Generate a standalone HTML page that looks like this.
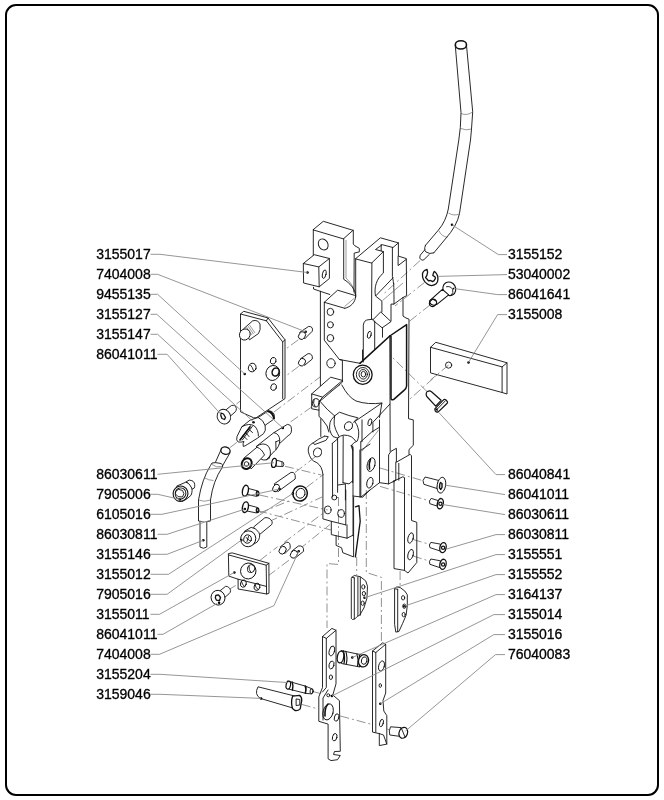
<!DOCTYPE html>
<html><head><meta charset="utf-8"><style>
html,body{margin:0;padding:0;background:#fff;width:664px;height:800px;overflow:hidden}
svg{display:block}
text{font-family:"Liberation Sans",sans-serif;font-size:14px;fill:#000;stroke:#000;stroke-width:0.3}
svg{will-change:transform}
.ld{fill:none;stroke:#8a8a8a;stroke-width:0.9}
.p{fill:#fff;stroke:#111;stroke-width:0.9;stroke-linejoin:round}
.n{fill:none;stroke:#111;stroke-width:0.9;stroke-linejoin:round;stroke-linecap:round}
.t{fill:none;stroke:#555;stroke-width:0.6}
.d{fill:none;stroke:#777;stroke-width:0.8;stroke-dasharray:9 3 2 3}
.k{fill:#000}
</style></head><body>
<svg width="664" height="800" viewBox="0 0 664 800">
<rect x="6" y="5" width="652" height="790" rx="10" ry="10" fill="none" stroke="#000" stroke-width="2"/>
<path class="d" d="M420,260.6 L382.5,295 M424.4,282.5 L395,306 M430,305 L409.4,321.3 M446,367 L409,399.8 M427.1,391.7 L390,355"/>
<path class="d" d="M380,468 L424,481 M380,486.4 L430,501 M413,539.5 L430,544.5 M413,556 L430,561.3"/>
<path class="d" d="M298.3,339.8 L285.3,349.4 M298.8,366.3 L285.3,376.4 M236.5,404 L276,372 M274,412 L320,377 M290.7,421.8 L315.9,404 M229.7,447.8 L240,440"/>
<path class="d" d="M285,466.3 L321.3,475 M295,472.5 L317.7,455 M306.3,487.5 L324,474 M259.4,495 L327.7,510 M258.1,510.8 L331,530 M268.9,521.7 L322,497 M284,542.5 L326,511 M299,549.5 L330,524.5 M260,560.3 L277.6,546.7 M268.1,575.9 L289.8,559.6 M260,512.9 L291.2,500 M228,590 L240,583"/>
<path class="d" d="M338.5,497 L338.5,564.5 L327,563.5 L327,628 M356.7,557 L356.7,575 M366.3,490 L366.3,572.5 L381.4,577.3 L381.4,643 M400.1,571 L400.1,587"/>
<path class="d" d="M340.3,716 L372.5,724.6 M376,725.5 L390,730 M301.7,704.4 L318.3,709 M313,691.6 L322,693.9"/>
<!-- left tower -->
<path class="n" d="M313.3,229.6 L323.3,221.3 L353,230.3 L343.7,238.6 Z"/>
<path class="n" d="M313.3,229.6 L313.3,258"/>
<path class="n" d="M343.7,238.6 L343.7,279.3 C350,283 355.7,290 355.7,296 C355.5,302 351,307 344.8,308.3"/>
<path class="t" d="M346,240 L346,278 C352,284 354,288 354.5,294"/>
<path class="n" d="M353.3,230.2 L353.3,244.1 L355,245.9 L359.3,248.3 L359.3,251.9 L354.2,253.1 L354,292"/>
<ellipse class="n" cx="323.2" cy="244.4" rx="4.6" ry="5.8" transform="rotate(-30 323.2 244.4)"/>
<!-- cube 3155017 -->
<path class="p" d="M303.3,263.5 L314.3,254.7 L329.4,258.5 L329.4,278.5 L319.2,286.8 L303.6,283 Z"/>
<path class="n" d="M303.3,263.5 L318.8,266.9 L329.4,258.5 M318.8,266.9 L319.2,286.8"/>
<ellipse class="n" cx="324.2" cy="274.2" rx="1.8" ry="4.3" transform="rotate(12 324.2 274.2)"/>
<circle class="k" cx="307.5" cy="272.5" r="1.25"/>
<!-- below cube -->
<path class="n" d="M313.5,287.2 L313.5,289 L329.8,294.5"/>
<path class="n" d="M320.4,291.3 L320.4,386.3 M320.8,418.8 L320.8,436.5"/>
<path class="n" d="M324.3,302.3 L337.6,290.2 L354.5,295.3 M324.3,302.3 L344.8,308.3"/>
<path class="t" d="M344.5,306.5 L354.5,298"/>
<path class="n" d="M324.3,302.3 L324.3,340.2 L339.4,359.5 L342.4,360.2 L342.4,380.1 M339.4,359.5 L359.9,363.3"/>
<ellipse class="n" cx="330.4" cy="311.9" rx="3.3" ry="3.6"/>
<ellipse class="n" cx="330.4" cy="324.8" rx="3" ry="3.1"/>
<ellipse class="n" cx="330.4" cy="338.1" rx="3.3" ry="3.6"/>
<ellipse class="n" cx="331" cy="363.3" rx="4.2" ry="4.6"/>
<!-- center tower -->
<path class="n" d="M355.7,258.6 L380.4,237.8 L398.4,242.9 L393,247.5 L382.2,244.7 L375.5,249.5 L383.4,251.6 L371.9,262.8 Z"/>
<path class="n" d="M355.7,258.6 L355.7,297 M371.9,262.8 L371.5,318.8"/>
<path class="n" d="M383.4,251.6 L383.4,273 C376,279 374,288 375.5,296 L381.9,301.1 L381.9,311.9"/>
<path class="n" d="M392.4,247.5 L392.4,276.6 C394,283 394,290 394,304.1 L391,304.1 L391,321"/>
<path class="n" d="M398.4,242.9 L398.4,256.1 L406.3,258.6 L406.6,295.7 L403,297.5 L394,304.1 M403,297.5 L403,316.1 L406,318 L409,319.2 L408.5,418.7 L413.3,419.9 L413.3,445.3 L409,449.5 L409,454.3"/>
<path class="n" d="M375.9,295.7 L393,277.8 M398.1,256.3 L398.1,265.6 L406.2,259.4 M381.2,244.5 L381.2,250.8"/>
<path class="t" d="M382.5,300.5 L403,283"/>
<path class="n" d="M372.9,319.8 L380.7,311.9 L391,321.6 L382.5,327.6 Z M382.5,327.6 L382.5,337.2 M374.7,321 L374.7,349.3"/>
<path class="n" d="M363.3,362 L363.3,325.2 Q364,320 368,319.8 L372.9,319.2"/>
<ellipse class="n" cx="369.3" cy="334.8" rx="1.8" ry="3.6" transform="rotate(15 369.3 334.8)"/>
<path class="n" style="stroke-width:1.6" d="M359.9,363.3 L389.8,336"/>
<path class="n" style="stroke-width:1.5" d="M389.8,336 L406.6,324.6 L406.6,386 Q406.4,388.6 404,390.4 L393.5,399.6 Q391,400.5 391,398 L391,336.6"/>
<path class="n" d="M389.8,336 L390.2,451.3"/>
<!-- nut in body -->
<path class="n" d="M362.5,350 L362.5,359.6"/>
<ellipse class="n" style="stroke-width:1.3" cx="362.7" cy="374.7" rx="9.4" ry="9.6"/>
<ellipse class="n" cx="362.9" cy="374.5" rx="6.6" ry="7"/>
<ellipse class="n" cx="363.2" cy="374.3" rx="4.2" ry="4.8"/>
<ellipse class="n" cx="363.4" cy="374.2" rx="2.3" ry="2.8"/>
<path class="n" d="M341.8,385 Q348,397 356,401 Q368,405 381.9,403"/>
<!-- small block -->
<path class="p" d="M311.7,393.9 L330.7,377.2 L342.5,380.4 L342.5,382 L322.6,399 L319,401.6 L319,410.2 L311.7,408.8 Z"/>
<path class="n" d="M311.7,393.9 L322.6,397.1 L342.5,380.4 M322.6,397.1 L319,401.6 M319,410.2 L319,416.5 L321.7,418.8 L327.1,426 L328.9,432"/>
<path class="t" d="M323.5,396 L340,385"/>
<ellipse class="n" cx="315.8" cy="402.8" rx="3.4" ry="4.2" transform="rotate(15 315.8 402.8)"/>
<path class="n" d="M314,399.5 Q312.5,403.5 315,406.5"/>
<path class="n" d="M319.9,401.2 Q327,410 334.6,415.9"/>
<path class="n" d="M334.6,415.9 L339.5,412.2 L348.9,415.5 L357.9,417.8 L354.5,421.2 Q357.5,425 357.9,427.6 Q359,431 358.7,435.1 Q358.3,439 357.2,441.1 L354.2,442.6 L351.1,445.7 L352.7,450.2 M334.6,415.9 Q330.5,420 330.1,422.3 Q329.3,426 329.7,429.8 Q331,434.5 333.1,436.6 L337.6,438.1 M334.6,416.3 Q334,420 334.2,424.6 Q335.5,430 337.6,433.6 L339.1,436.6"/>
<ellipse class="n" cx="348.5" cy="426.1" rx="3.9" ry="4.5" transform="rotate(35 348.5 426.1)"/>
<path class="n" d="M353.6,422.3 L381.9,403 L379.5,417.5 M389.8,404.2 L372.9,422.3 L372.9,432 M362,419.9 L362,441.7"/>
<ellipse class="n" cx="369.9" cy="422.3" rx="1.8" ry="3.6" transform="rotate(15 369.9 422.3)"/>
<!-- lower body -->
<path class="n" d="M324.7,436.1 Q318,439 313.3,442.8 Q310,444.5 309,446.4 Q307.8,449 308.4,451.8 Q309.2,456 311.4,459 Q313.5,461.5 316.9,462.7 Q319.5,464.5 321.1,467.5 Q322.7,471 322.9,474.7 L322.9,518.9 L331.3,521.3 L345.8,524.9 M313.3,442.8 L314.5,444.6 L325.9,440.4 L328.3,436.7 L324.7,436.1"/>

<ellipse class="n" cx="317.5" cy="452.4" rx="4" ry="4.5" transform="rotate(30 317.5 452.4)"/>


<path class="n" d="M332.3,443.4 L332.6,497.1 M337.6,438.1 L337.6,492.3 M343.2,435.9 L343,482.7 M352.7,445.9 L352.7,482.7"/>
<path class="n" d="M332.3,443.4 L337.6,438.9 M337.6,438.1 Q340.5,435.5 343.6,435.1 Q347.5,435 351.1,436.6 Q354,438.5 355.7,441.1"/>
<path class="n" d="M343,482.7 L349,483.9 L352.7,480.8 M338.2,485 L345.4,483.9 L345.4,500"/>
<path class="n" d="M361.1,450.1 L370,444.1"/>
<path class="n" d="M351.2,445.3 L353,447.7 L353,535.8"/>
<path class="n" d="M360.8,441.7 L360.8,497.1 L379.5,482.7 L379.5,420 M360.8,441.7 L371.7,432 L379.5,427.2"/>
<path class="t" d="M362,451.3 L378.9,429.6"/>
<ellipse class="n" cx="371.1" cy="464.6" rx="3.8" ry="7" transform="rotate(15 371.1 464.6)"/>
<path class="n" style="stroke-width:1.6" d="M369.5,469 Q368.5,464 370.5,459"/>
<ellipse class="n" cx="369.9" cy="482.7" rx="3" ry="5.4" transform="rotate(15 369.9 482.7)"/>
<path class="n" d="M388.6,483.9 L388.6,454.9 L391,451.3 L396.4,448.3 L396.4,462.2 L410.2,454.3 L411.5,455.8 L411.5,520.5 L416.8,522.3 L416.8,562.5 L408,573 L404.5,570.4 L394,568.6 L394,480.3"/>
<path class="n" d="M395.8,462.2 L395.8,480.2 L393.1,482 M395.8,480.2 L402.8,476.8 L404.5,477.6 L404.5,570.4 M398.8,463.4 L398.8,480.2"/>
<path class="n" d="M379.5,482.7 L388.6,483.9 L395.8,480.2"/>
<ellipse class="n" cx="410.6" cy="538" rx="2.6" ry="5.3" transform="rotate(15 410.6 538)"/>
<ellipse class="n" cx="410.6" cy="554.6" rx="2.6" ry="5.3" transform="rotate(15 410.6 554.6)"/>
<ellipse class="n" cx="327.7" cy="509.9" rx="3.4" ry="3.9"/>
<ellipse class="n" cx="341" cy="513.5" rx="3.4" ry="3.9"/>
<ellipse class="n" cx="334.3" cy="497.5" rx="2.6" ry="2.4"/>
<path class="n" d="M345.8,490 L345.8,524.9 M331.3,521.3 L331.3,534.6 L347,538.2 L353,535.2 M347,524.9 L347,538.2"/>
<path class="n" d="M336.1,535.8 L336.1,545.4 L341.6,547.8 L342.8,552.7 L353.6,556.9 L353.6,497.2"/>
<path class="n" style="stroke-width:1.3" d="M355.4,506.9 L359,505.7 L360.2,521.3 L356.6,547.8 L355.4,556.9"/>
<path class="n" d="M353,496 L362.7,497.2 L369.9,490 M359.9,450 L359.9,497"/>
<!-- rod 3155152 -->
<path class="n" d="M455.3,45.8 L461,112.6 L460.3,127.6 L458.8,140 L448.3,209 Q446,221 438.5,230 L425.5,245.3"/>
<path class="n" d="M466.6,46.5 L472.7,111.8 L471.5,129 L470.5,140 L459.5,213.5 Q457,226 445.3,239 L433.8,252.9"/>
<ellipse class="n" style="stroke-width:1.6" cx="460.9" cy="44.9" rx="5.6" ry="4.1"/>
<path class="t" d="M461,113.5 Q467,116 472.7,112 M460.3,128.3 Q466,131 471.5,129 M448.5,213 Q454,216.5 459.5,213.8 M439.1,231 Q441,236 447.4,237.4"/>
<path class="n" d="M425.5,245.3 Q423.5,250 426,252 Q429.5,254.5 433.8,252.9"/>
<path class="n" d="M424.8,249.8 L420.3,255.1 Q418.5,258.5 421.5,260 Q423,260.5 424,259.6 L429.3,254.4"/>
<circle class="k" cx="452" cy="224.8" r="1.25"/>
<!-- e-clip -->
<path class="n" style="stroke-width:1.3" d="M427,269.3 Q424.5,270 423.8,271.1 Q422.3,273 422.5,274.4 Q422.3,277.5 423.4,279.5 Q425,282.5 427,283.8 Q429.5,285.6 431.7,285.6 Q434.5,285.3 436.1,283.8 Q437.9,282 437.9,279.5 Q438,277.5 437.5,275.8 Q436.8,273.8 435.7,272.6 L434.3,271.5 Q433.2,273 432.8,275.5 L435,276.9 Q435.8,278 435.3,278.7 L433.9,280.9 L432.5,281.6 L431.4,280.9 L430.3,280.5 L428.5,280.9 L427.4,279.5 L425.6,277.6 L427,275.1 L427.6,272.2 Z"/>
<!-- screw 86041641 -->
<ellipse class="p" style="stroke-width:1.1" cx="449.3" cy="288.8" rx="6.3" ry="6.9" transform="rotate(-30 449.3 288.8)"/>
<path class="n" d="M446.5,286.7 Q450.5,285.8 452.6,289.2 Q453.8,292.5 451.5,295"/>
<path class="k" d="M452.5,288 L454.5,287.5 L454,290 Z"/>
<path class="p" style="stroke-width:1.1" d="M442.4,289.4 L448.7,294.9 L436.6,304.6 Q431.5,306.5 429.8,302.5 Q429,300.8 430.3,300.2 Z"/>
<ellipse class="n" style="stroke-width:1.1" cx="433" cy="302.9" rx="3.2" ry="3.8" transform="rotate(40 433 302.9)"/>
<path class="n" style="stroke-width:1.3" d="M430.8,300 Q433,298.5 435.5,300.5"/>
<!-- block 3155008 -->
<path class="p" d="M430.5,347.3 L435.8,342.3 L507,362.8 L507,394 L502.1,392.5 L430.5,372.9 Z"/>
<path class="n" d="M430.5,347.3 L502.1,366.9 L502.1,392.5 M502.1,366.9 L507,362.8"/>
<circle class="n" cx="448.6" cy="365.1" r="3.1"/>
<circle class="k" cx="468.5" cy="362.4" r="1.25"/>
<!-- screw 86040841 -->
<path class="p" style="stroke-width:1.2" d="M431.5,391.8 L441.1,400.3 L435.7,406.1 L426.8,396.5 Q425.2,393.2 427.5,391.4 Q429.8,390 431.5,391.8 Z"/>
<path class="p" style="stroke-width:1.2" d="M434.8,408.8 L443.8,399.6 Q445.5,399 447.2,401.3 Q448,402.5 447.2,403.2 L438.3,411.9 Q436.5,412.5 435.2,410.8 Z"/>
<path class="n" d="M436.2,410.2 L445.2,401"/>
<path class="k" d="M435,409 L437.5,408.2 L437.8,411.5 Z"/>
<path class="d" d="M448.6,365.1 L430.5,380"/>
<!-- right screws -->
<path class="p" d="M425.1,477 L438.5,480.4 L437,488.5 L423.9,484.3 Q421.5,480.5 425.1,477 Z"/>
<ellipse class="p" cx="441.4" cy="485.2" rx="4.2" ry="8" transform="rotate(10 441.4 485.2)"/>
<path class="n" style="stroke-width:1.4" d="M440.5,482.5 L442,483.5 L442,487.5 L440.8,489.5 L439.5,487.8 L439.8,484 Z"/>
<path class="p" d="M431.2,498.4 L438.6,500.7 L436.9,506 L429.8,503.7 Q428.5,501 431.2,498.4 Z"/>
<ellipse class="p" style="stroke-width:1.4" cx="440.3" cy="503.7" rx="2.9" ry="5.2" transform="rotate(12 440.3 503.7)"/>
<circle class="n" style="stroke-width:1.2" cx="440.4" cy="503.8" r="1.6"/>
<path class="p" d="M430.8,542.4 L440.4,544.1 L440.4,551.1 L429.9,547.6 Q428.5,545 430.8,542.4 Z"/>
<ellipse class="p" style="stroke-width:1.3" cx="443" cy="547.6" rx="3.1" ry="5.1" transform="rotate(12 443 547.6)"/>
<circle class="n" style="stroke-width:1.2" cx="443.1" cy="547.8" r="1.6"/>
<path class="p" d="M430.8,559 L440.4,560.8 L440.4,567.8 L429.9,564.3 Q428.5,561.6 430.8,559 Z"/>
<ellipse class="p" style="stroke-width:1.3" cx="443" cy="564.3" rx="3.1" ry="5.1" transform="rotate(12 443 564.3)"/>
<circle class="n" style="stroke-width:1.2" cx="443.1" cy="564.5" r="1.6"/>
<!-- plate 9455135 -->
<path class="p" d="M243.7,311.3 L268,317.9 L285,339.8 L285,398.6 L256.1,417.8 L253.7,417.8 L240.5,411.8 L240.5,314 Z"/>
<path class="n" d="M240.5,314 L266.4,320.8 L282.7,341.9 L282.7,398.6 M268,317.9 L266.4,320.8 M285,339.8 L282.7,341.9"/>
<path class="p" d="M243.7,328.7 L252.7,320.8 Q258,319.5 260,324 Q261,330 258.5,333.5 L249.5,339.8 Z"/>
<ellipse class="p" cx="244.8" cy="334.5" rx="5.2" ry="5.7" transform="rotate(35 244.8 334.5)"/>
<path class="t" d="M246.5,327 L252,335 M248,326 L253.5,334 M249.5,325 L255,333"/>
<ellipse class="n" cx="252.3" cy="367.6" rx="3.8" ry="4.3" transform="rotate(20 252.3 367.6)"/>
<path class="n" d="M250.5,365 Q252.5,367 253.5,370.5"/>
<ellipse class="n" cx="273.2" cy="360.8" rx="2.8" ry="3.4" transform="rotate(20 273.2 360.8)"/>
<ellipse class="n" cx="272.8" cy="373" rx="6.8" ry="7.6" transform="rotate(20 272.8 373)"/>
<ellipse class="n" style="stroke-width:1.5" cx="275.6" cy="372" rx="3.4" ry="4.1" transform="rotate(20 275.6 372)"/>
<ellipse class="n" cx="273.6" cy="387.1" rx="2.8" ry="3.4" transform="rotate(20 273.6 387.1)"/>
<circle class="k" cx="244.7" cy="373.9" r="1.25"/>
<!-- screw 86041011 upper left -->
<path class="p" d="M224.5,411 L231.4,405.5 Q235.5,404.5 236.4,408.5 Q236.3,410.5 235.5,411.6 L230.5,416 Z"/>
<ellipse class="p" cx="223.9" cy="416.6" rx="6.6" ry="7.5" transform="rotate(-25 223.9 416.6)"/>
<path class="n" style="stroke-width:1.3" d="M221,413 L223.5,414 L225.5,417.5 L224.5,419.5 L222,418.5 L220.8,415.5 Z"/>
<!-- cylinder 3155127 -->
<path class="p" d="M250.1,420.1 L258.4,417.4 L268.1,411 Q272.5,410.5 274.2,414.5 L274.2,418.9 L265.1,425.3 Q266.3,431 263.6,433.6 L257.6,438.1 L247.8,444.2 Q244.5,446.5 243.3,446.4 Q242.5,443.5 244,441.5 Q240.5,442.5 238.2,442 Q235.8,440.5 237,436.5 L241.8,426.8 Z"/>
<path class="n" style="stroke-width:2" d="M268.1,411.2 Q273,412.5 274,418.5"/>
<path class="n" d="M258.4,417.6 Q263.5,420 265.1,425.3 M241.8,426.8 Q249,422.5 254.5,426 Q258.5,430 258.4,436"/>
<path class="n" d="M252.3,426.4 L242.3,440 M250.5,425.7 L240.5,439 M246,433 L249,436.5 M243.5,436 L247,439.5 M249,429.5 L252.5,432.5"/>
<path class="n" style="stroke-width:1.6" d="M240,440 L250,427"/>
<circle class="k" cx="253.5" cy="422.2" r="1.25"/>
<!-- cylinder 3155147 -->
<path class="p" d="M273.8,432.7 L287.3,424.4 Q290.5,424.5 291.1,426.7 Q292,430 291.1,432.7 Q290,435 288.1,435.7 L278.3,444.8 Z"/>
<path class="p" d="M256.5,446.3 L273.8,432.7 Q279.5,433.5 279.8,440.5 Q279.5,447 274.5,451 L266.3,459.8 Q261,461 258.5,456 Z"/>
<path class="n" d="M256.5,446.3 Q263.5,441.5 268.5,446.3 Q272,451.5 269.3,458.3 L266.3,459.8"/>
<path class="p" d="M243.7,458.3 L257,447.2 Q262,449 264.5,455 L251.2,468.9 Z"/>
<path class="n" d="M275.8,441.8 L279.5,440.3 M275.8,441.8 L276,449.8"/>
<ellipse class="p" style="stroke-width:2" cx="246.7" cy="463.6" rx="4.8" ry="5.6" transform="rotate(30 246.7 463.6)"/>
<circle class="n" cx="246.5" cy="464" r="2.3"/>
<circle class="k" cx="282.8" cy="427.9" r="1.25"/>
<!-- small screw 86030611 left -->
<path class="p" d="M276,460 L283,462 Q284.8,464.3 283,466.6 L276,466.2 Z"/>
<ellipse class="p" style="stroke-width:1.3" cx="274" cy="462.9" rx="2.3" ry="4.6" transform="rotate(10 274 462.9)"/>
<path class="t" d="M281.5,461.7 L281.5,466.5 M282.5,462 L282.5,466.5"/>
<!-- bent rod 3155146 -->
<path class="p" d="M221,449.8 L214.3,464.8 L221.8,467 L230,452.8 Z"/>
<ellipse class="p" style="stroke-width:1.3" cx="225.5" cy="450.7" rx="4.7" ry="3.6" transform="rotate(15 225.5 450.7)"/>
<path class="p" d="M210.5,465.5 Q202,479 198.5,500 L198.5,521 Q204.5,523 210.5,521 L210.5,500 Q213,481 222.5,467 Q223.5,464.5 221,463.5 Q215,462 212,463 Z"/>
<path class="t" d="M204,477.5 Q208.5,480.5 213.5,480.5 M198.5,500 Q204,502.5 210.5,500 M212,464.5 Q216,468 222,466.5"/>
<path class="p" d="M200,521.8 L200,547 Q203.5,549.5 206.8,547 L206.8,521.5"/>
<circle class="k" cx="203.3" cy="540.3" r="1.25"/>
<!-- nut 7905006 -->
<path class="p" d="M186.3,481.7 L189.2,480.1 Q192.5,480.5 193.1,481.3 Q194.8,483 194.7,484.6 Q194.8,487 194.3,488 L191.6,489.5 Z"/>
<path class="n" d="M186.3,481.7 Q190.5,484.5 191.6,489.5"/>
<path class="p" d="M176.7,486.1 L185.8,482.2 Q189,483 190.2,485.6 Q192.3,488 192.1,490.4 Q192,493 191.1,495.2 L187.3,498.6 L182,501.5 Z"/>
<ellipse class="p" style="stroke-width:1.1" cx="180.5" cy="493.7" rx="7.4" ry="7.7" transform="rotate(25 180.5 493.7)"/>
<ellipse class="n" cx="180.5" cy="493.5" rx="5.3" ry="5.7" transform="rotate(25 180.5 493.5)"/>
<path class="n" d="M176.2,490.9 L178.6,489.4 L182.5,490.4 L183.9,493.7 L182.5,497 L178.1,496.6 L175.7,494.2 Z"/>
<circle class="k" cx="179.8" cy="499.6" r="1.25"/>
<!-- screws 6105016 / 86030811 left -->
<path class="p" d="M248.2,488.4 L257.5,490.9 Q259.3,493.5 256.7,496.4 L246.5,494.3 Z"/>
<ellipse class="p" style="stroke-width:1.4" cx="245.4" cy="490.7" rx="2.9" ry="5.5" transform="rotate(12 245.4 490.7)"/>
<ellipse class="n" style="stroke-width:1.2" cx="257.6" cy="493.6" rx="1.3" ry="2.4"/>
<path class="p" d="M248.2,505 L257.5,507.5 Q259.3,510.2 256.7,513 L246.5,510.9 Z"/>
<ellipse class="p" style="stroke-width:1.4" cx="245.4" cy="507.2" rx="2.9" ry="5.4" transform="rotate(12 245.4 507.2)"/>
<ellipse class="n" style="stroke-width:1.2" cx="257.6" cy="510.2" rx="1.3" ry="2.4"/>
<circle class="k" cx="244.8" cy="509" r="1.25"/>
<!-- pin 6105016 -->
<path class="p" d="M274.2,483.9 L291,472.4 Q296,471.5 295.2,479 L277.8,491.7 Z"/>
<ellipse class="p" cx="276" cy="488" rx="2.9" ry="4.1" transform="rotate(35 276 488)"/>
<circle class="k" cx="279.6" cy="489" r="1.25"/>
<!-- washer 3155012 -->
<ellipse class="n" style="stroke-width:1.5" cx="300.1" cy="493.5" rx="7.2" ry="7.6" transform="rotate(20 300.1 493.5)"/>
<ellipse class="n" cx="300.6" cy="493.3" rx="4.4" ry="5" transform="rotate(20 300.6 493.3)"/>
<circle class="k" cx="292.8" cy="493.5" r="1.25"/>
<!-- socket cap screw 7905016 -->
<path class="p" d="M253.5,527.1 L264.9,517.7 Q269.7,517 272.1,521.6 Q272.5,523.5 271.5,524.7 L259.5,534.6 Z"/>
<path class="p" d="M244.4,531.3 L251.1,527.4 Q255.9,527.6 258.9,532.5 Q260.2,535 259.5,537.3 Q259,540 257.1,542.1 L254.1,543.9 L250,546 Z"/>
<ellipse class="p" cx="248.2" cy="538.8" rx="7.5" ry="8" transform="rotate(20 248.2 538.8)"/>
<ellipse class="n" cx="247.6" cy="539.1" rx="3.8" ry="4.2" transform="rotate(20 247.6 539.1)"/>
<path class="n" d="M246,537.5 L249.5,540.5 M248.5,536.5 L247,541.5"/>
<circle class="k" cx="241.4" cy="540" r="1.25"/>
<!-- block 3155011 -->
<path class="p" d="M228.4,553.6 L232.2,552.9 L268.9,563.3 L269,593.2 L266.8,594 L238.1,589 L238.1,579.2 L228.8,576.1 L228.4,553.6 Z"/>
<path class="n" d="M228.8,555 L266.2,565.2 L266.6,594 M266.2,565.2 L268.9,563.3 M238.1,579.2 L266.4,586.4"/>
<ellipse class="n" cx="248.3" cy="571" rx="7.7" ry="8" transform="rotate(20 248.3 571)"/>
<ellipse class="n" cx="251" cy="568.7" rx="3.5" ry="4" transform="rotate(30 251 568.7)"/>
<path class="n" d="M249,566.5 Q248.5,570 251,572.5"/>
<ellipse class="n" cx="243.4" cy="583.6" rx="2.9" ry="3.7" transform="rotate(15 243.4 583.6)"/>
<ellipse class="n" cx="257" cy="586.8" rx="2.9" ry="3.7" transform="rotate(15 257 586.8)"/>
<path class="n" d="M241.5,581.5 Q242,584.5 244.5,586.5 M255,584.5 Q255.5,587.5 258,589.5"/>
<circle class="k" cx="234.4" cy="572.5" r="1.25"/>
<!-- screw 86041011 lower left -->
<path class="p" d="M218.5,592 L225.6,586.3 Q229.2,586.2 230.6,590.4 Q230.6,592.5 229.2,593.6 L223.5,598.5 Z"/>
<ellipse class="p" cx="218" cy="597.7" rx="6.9" ry="7.4" transform="rotate(-20 218 597.7)"/>
<path class="n" style="stroke-width:1.3" d="M215.8,595.5 L218.5,594.8 L220.5,597.5 L219.5,600.5 L216.5,600.2 L215.3,597.8 Z"/>
<circle class="k" cx="219.1" cy="602.8" r="1.25"/>
<!-- pins 7404008 lower -->
<path class="p" d="M280.3,546.8 L286.3,542.3 Q291,541.5 290.1,548.3 L284.8,553.6 Z"/>
<ellipse class="p" cx="282.6" cy="550.2" rx="3.2" ry="4.1" transform="rotate(35 282.6 550.2)"/>
<path class="p" d="M291.6,551.3 L298.4,546 Q304,545 303.6,551.3 L296.1,557.3 Z"/>
<ellipse class="p" cx="293.9" cy="554.3" rx="3.2" ry="4.1" transform="rotate(35 293.9 554.3)"/>
<circle class="k" cx="298.7" cy="551.3" r="1.25"/>
<!-- pins 7404008 upper -->
<path class="p" d="M299.6,332.4 L308.7,326.4 Q313.5,326.5 312.3,331.2 L304.5,339 Z"/>
<ellipse class="p" cx="302" cy="335.6" rx="3.2" ry="4.1" transform="rotate(35 302 335.6)"/>
<circle class="k" cx="305.7" cy="331.8" r="1.25"/>
<path class="p" d="M300.2,359 L308.1,353.6 Q313,353.5 312.3,359 L304.5,365.4 Z"/>
<ellipse class="p" cx="302" cy="362.2" rx="3.2" ry="4" transform="rotate(35 302 362.2)"/>
<!-- pin 3155204 -->
<path class="p" d="M305.6,686.2 L311,688.4 Q313.5,689.5 313.2,691.5 Q312.8,693.8 311.5,693.9 L305.3,693.3 Z"/>
<path class="p" d="M287.4,681 L306.4,686.4 L305.1,693.2 L288.8,689.1 Z"/>
<ellipse class="p" style="stroke-width:1.2" cx="288.3" cy="685.1" rx="2.2" ry="4.1" transform="rotate(10 288.3 685.1)"/>
<path class="n" style="stroke-width:1.4" d="M292.2,682 Q293.6,686 292.4,690.2 M305.2,686 Q306.6,690 305.4,693.2"/>
<ellipse class="n" cx="311.6" cy="691.1" rx="1.5" ry="2.5" transform="rotate(10 311.6 691.1)"/>
<!-- pin 3159046 -->
<path class="p" d="M258,686.8 L295,696.1 L293.5,708.2 L260.3,698.4 Q254,694.5 258,686.8 Z"/>
<path class="p" style="stroke-width:1.3" d="M292.7,696.1 L299.5,695.4 Q302,697 301.7,700.7 L300.2,708.9 Q298,711 295,710.5 L292.5,708.5 Q290.5,702 292.7,696.1 Z"/>
<path class="n" d="M296.5,699 L299.8,699.5 L299.8,705 L296.5,705.5 Z"/>
<circle class="k" cx="261.1" cy="698.4" r="1.25"/>
<!-- plate 3155014 -->
<path class="p" d="M322.5,636.5 L331.9,628.4 L336,630.3 L336,683.8 L332.8,695 L339.4,700.6 L340.3,751.3 L334.5,751.5 L333.5,754.5 L340.3,755.5 L337.5,759.7 L331,760.6 L328.1,758.8 L328.1,724.1 L318.8,721.3 L318.8,696.9 L322.5,687.5 Z"/>
<path class="n" d="M322.5,636.5 L326.3,638.4 L336,630.3 M326.3,638.4 L326.3,687.5 L322.5,692 M323,720 L323,698 L328,690"/>
<ellipse class="n" cx="331.9" cy="650.9" rx="2.6" ry="5" transform="rotate(15 331.9 650.9)"/>
<ellipse class="n" cx="331.5" cy="665" rx="2.4" ry="4" transform="rotate(15 331.5 665)"/>
<ellipse class="n" cx="330.9" cy="677.2" rx="1.6" ry="2.3"/>
<ellipse class="n" cx="328.1" cy="711.9" rx="5" ry="8.2" transform="rotate(15 328.1 711.9)"/>
<path class="n" style="stroke-width:1.6" d="M325,716 Q324.5,708 328,704"/>
<ellipse class="n" cx="336.6" cy="717.5" rx="2.2" ry="3.8" transform="rotate(15 336.6 717.5)"/>
<ellipse class="n" cx="334.7" cy="737.2" rx="2.2" ry="3.8" transform="rotate(15 334.7 737.2)"/>
<circle class="n" cx="328.3" cy="695.3" r="1.5"/>
<circle class="k" cx="331.9" cy="696" r="1.25"/>
<!-- pin 3164137 -->
<path class="p" d="M341,650.5 L361.3,654.8 L363,666 L359,666.8 L341.5,663.5 Z"/>
<ellipse class="p" style="stroke-width:1.3" cx="340.5" cy="657" rx="3.2" ry="6" transform="rotate(10 340.5 657)"/>
<path class="n" style="stroke-width:1.1" d="M343.5,650.8 Q345.5,657 344,663.7 M345.8,651.3 Q347.8,657.3 346.3,664"/>
<path class="n" style="stroke-width:1.1" d="M357,654 Q359,660 357.5,666.5 M359.2,654.3 Q361.2,660.3 359.7,666.8"/>
<ellipse class="p" style="stroke-width:1.3" cx="363.5" cy="660.8" rx="5" ry="6.2" transform="rotate(15 363.5 660.8)"/>
<ellipse class="n" cx="364.2" cy="660.6" rx="2.8" ry="3.8" transform="rotate(15 364.2 660.6)"/>
<circle class="k" cx="352.3" cy="657.5" r="1.25"/>
<!-- plate 3155016 -->
<path class="p" d="M372.5,651 L382.7,642.8 L385.7,644.3 L385.7,693 L383,700.5 L383.8,711 L386.8,715.6 L386.8,744.1 L379.3,745.6 L379.3,733.6 L372.5,732.1 Z"/>
<path class="n" d="M372.5,651 L375.8,652.5 L385.7,644.3 M375.8,652.5 L375.8,732.1 M379.3,733.6 L383.5,735 L386.8,744.1"/>
<ellipse class="n" cx="381.5" cy="666" rx="2.8" ry="5.2" transform="rotate(15 381.5 666)"/>
<ellipse class="n" cx="380.3" cy="685.5" rx="1.2" ry="1.9"/>
<ellipse class="n" cx="381.5" cy="723" rx="1.8" ry="3.8" transform="rotate(15 381.5 723)"/>
<circle class="k" cx="380.3" cy="703.8" r="1.25"/>
<!-- screw 76040083 -->
<path class="p" d="M390.5,726.8 L401,727.6 L401,736.5 L389.8,735 Q388.5,731 390.5,726.8 Z"/>
<ellipse class="p" style="stroke-width:1.2" cx="403.3" cy="732.8" rx="4.2" ry="5.6" transform="rotate(20 403.3 732.8)"/>
<path class="n" d="M401.5,728.5 L405,737"/>
<!-- 3155551 -->
<path class="p" d="M351.9,577.3 L354.3,575.5 L360.3,576.7 L365.7,580.9 L367.5,586.3 L366.9,598.4 L363.9,608 L359.7,615.2 L357.3,616.4 L354.9,618.9 L352.5,619.5 L351.3,618.3 L351.3,578.5 Z"/>
<path class="n" d="M354.3,577.9 L354.3,618.9 M357.9,577.3 L357.9,615.8 M360.3,577.3 L360.3,615.2 M351.9,577.3 L354.3,577.9"/>
<ellipse class="n" cx="363.3" cy="586.9" rx="1.6" ry="2.2"/>
<ellipse class="n" cx="363.9" cy="593.6" rx="1.6" ry="2.2"/>
<ellipse class="n" cx="362.7" cy="603.2" rx="1.6" ry="2.2"/>
<circle class="k" cx="364.5" cy="597.8" r="1.25"/>
<!-- 3155552 -->
<path class="p" d="M394.6,588.7 L396.4,586.9 L400.1,587.5 L404.9,591.1 L407.3,594.8 L407.3,605.6 L406.1,615.2 L402.5,623.7 L398.9,631.5 L395.8,632.1 L394.6,624.3 Z"/>
<path class="n" d="M397.7,589.3 L397.7,631.5 M394.6,588.7 L397.7,589.3"/>
<ellipse class="n" cx="403.1" cy="597.8" rx="1.6" ry="2.2"/>
<ellipse class="n" cx="404.3" cy="606.2" rx="1.6" ry="2.2"/>
<ellipse class="n" cx="403.7" cy="614.6" rx="1.6" ry="2.2"/>
<circle class="k" cx="404.3" cy="606.2" r="1.25"/>

<path class="ld" d="M150.5 254.3 L160 254.3 L307.5 272.5"/>
<path class="ld" d="M150.5 274.3 L157.6 274.3 L305.7 331.8"/>
<path class="ld" d="M150.5 294.3 L157.6 294.3 L244.7 373.9"/>
<path class="ld" d="M150.5 314.3 L156.8 314.3 L282.9 428"/>
<path class="ld" d="M150.5 334.3 L157.6 334.3 L253.5 421.9"/>
<path class="ld" d="M157.5 354.3 L167.1 354.3 L221.3 414.8"/>
<path class="ld" d="M157.5 474.3 L274 462.7"/>
<path class="ld" d="M150.5 494.3 L157.6 494.3 L179.8 499.3"/>
<path class="ld" d="M150.5 514.3 L162 514.3 L279.6 489"/>
<path class="ld" d="M157.5 534.3 L167.1 534.3 L244.6 509.2"/>
<path class="ld" d="M150.5 554.3 L167.1 554.3 L203.3 540.3"/>
<path class="ld" d="M150.5 574.3 L168.5 574.3 L292.8 493.5"/>
<path class="ld" d="M150.5 594.3 L167.1 594.3 L241.6 539.9"/>
<path class="ld" d="M150.5 614.3 L159.5 614.3 L234.4 572.4"/>
<path class="ld" d="M157.5 634.3 L163 634.3 L217.3 603.3"/>
<path class="ld" d="M150.5 654.3 L159.5 654.3 L273.9 605.7 L298.7 551.3"/>
<path class="ld" d="M150.5 674.3 L160 674.3 L288.2 682.6"/>
<path class="ld" d="M150.5 694.3 L160 694.3 L261.1 698.4"/>
<path class="ld" d="M507 254.6 L498.4 254.6 L452 224.8"/>
<path class="ld" d="M507 274.6 L437.8 276.4"/>
<path class="ld" d="M507 294.6 L497.6 294.6 L454.5 288.6"/>
<path class="ld" d="M507 314.6 L497.6 314.6 L468.5 362.4"/>
<path class="ld" d="M505 474.6 L496 474.6 L438.8 412.5"/>
<path class="ld" d="M505 494.6 L445.5 485.2"/>
<path class="ld" d="M505 514.6 L442.5 504.5"/>
<path class="ld" d="M505 534.6 L496 534.6 L446.5 549"/>
<path class="ld" d="M505 554.6 L496 554.6 L364.5 597.8"/>
<path class="ld" d="M505 574.6 L496 574.6 L404.3 606.2"/>
<path class="ld" d="M505 594.6 L496 594.6 L352.3 657.5"/>
<path class="ld" d="M505 614.6 L493.8 614.6 L331.9 696"/>
<path class="ld" d="M505 634.6 L493.8 634.6 L380.3 703.8"/>
<path class="ld" d="M505 654.6 L495.5 654.6 L405.5 731"/>

<text x="96.2" y="258.9">3155017</text><text x="96.2" y="278.9">7404008</text><text x="96.2" y="298.9">9455135</text><text x="96.2" y="318.9">3155127</text><text x="96.2" y="338.9">3155147</text><text x="96.2" y="358.9">86041011</text><text x="96.2" y="478.9">86030611</text><text x="96.2" y="498.9">7905006</text><text x="96.2" y="518.9">6105016</text><text x="96.2" y="538.9">86030811</text><text x="96.2" y="558.9">3155146</text><text x="96.2" y="578.9">3155012</text><text x="96.2" y="598.9">7905016</text><text x="96.2" y="618.9">3155011</text><text x="96.2" y="638.9">86041011</text><text x="96.2" y="658.9">7404008</text><text x="96.2" y="678.9">3155204</text><text x="96.2" y="698.9">3159046</text><text x="507.9" y="258.9">3155152</text><text x="507.9" y="278.9">53040002</text><text x="507.9" y="298.9">86041641</text><text x="507.9" y="318.9">3155008</text><text x="507.9" y="478.9">86040841</text><text x="507.9" y="498.9">86041011</text><text x="507.9" y="518.9">86030611</text><text x="507.9" y="538.9">86030811</text><text x="507.9" y="558.9">3155551</text><text x="507.9" y="578.9">3155552</text><text x="507.9" y="598.9">3164137</text><text x="507.9" y="618.9">3155014</text><text x="507.9" y="638.9">3155016</text><text x="507.9" y="658.9">76040083</text>
</svg>
</body></html>
